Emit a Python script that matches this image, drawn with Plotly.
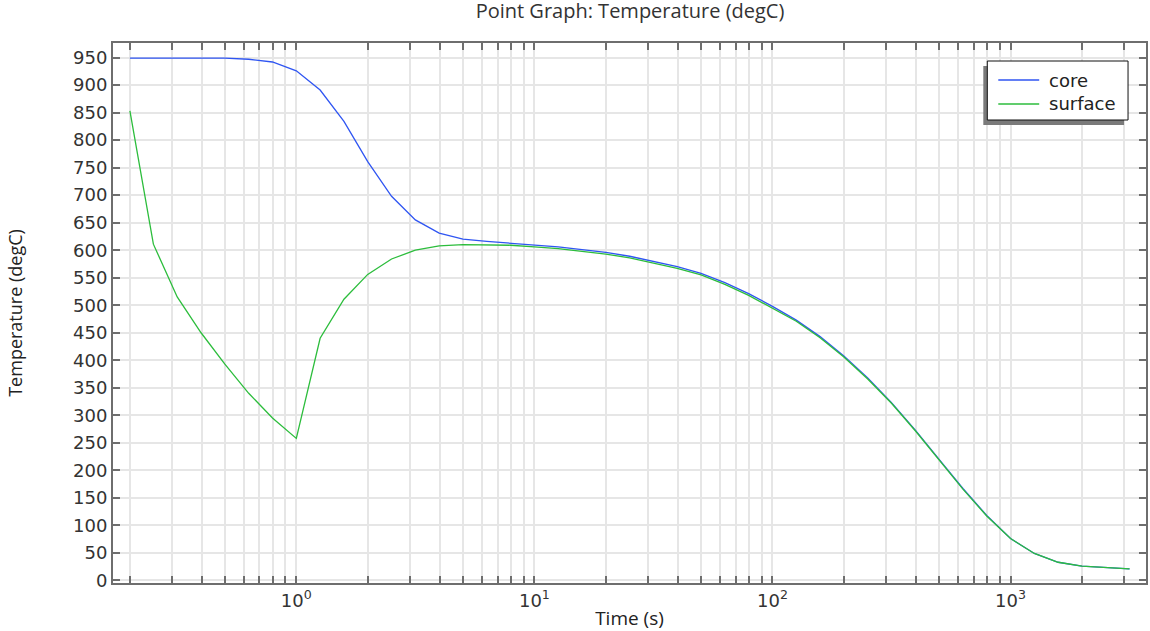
import plotly.graph_objects as go

# ---- data ----
time_s = [0.2, 0.251, 0.316, 0.398, 0.501, 0.631, 0.794, 1.0, 1.259, 1.585, 1.995,
          2.512, 3.162, 3.981, 5.012, 6.31, 7.943, 10, 12.59, 15.85, 19.95, 25.12,
          31.62, 39.81, 50.12, 63.1, 79.43, 100, 125.9, 158.5, 199.5, 251.2, 316.2,
          398.1, 501.2, 631, 794.3, 1000, 1259, 1585, 1995, 2512, 3162]
core = [949, 949, 949, 949, 949, 947, 942, 926, 891, 834, 761, 698, 655, 631, 620,
        616, 613, 610, 606, 601, 596, 589, 580, 570, 558, 541, 521, 498, 473, 443,
        408, 368, 323, 273, 220, 167, 118, 76, 49, 33, 26, 23, 21]
surface = [853, 611, 515, 450, 393, 340, 295, 258, 440, 511, 556, 584, 600, 608, 610,
           610, 609, 606, 603, 598, 593, 586, 577, 567, 555, 538, 518, 495, 471, 441,
           406, 366, 322, 272, 219, 166, 117, 76, 49, 33, 26, 23, 21]
series_names = ["core", "surface"]
series_colors = ["#2f55f2", "#2cbd3c"]

x_tick_vals = [0.2, 0.3, 0.4, 0.5, 0.6, 0.7, 0.8, 0.9,
               1, 2, 3, 4, 5, 6, 7, 8, 9,
               10, 20, 30, 40, 50, 60, 70, 80, 90,
               100, 200, 300, 400, 500, 600, 700, 800, 900,
               1000, 2000, 3000]
decade_labels = {1: "10<sup>0</sup>", 10: "10<sup>1</sup>",
                 100: "10<sup>2</sup>", 1000: "10<sup>3</sup>"}
x_tick_text = [decade_labels.get(v, "") for v in x_tick_vals]
y_tick_vals = list(range(0, 951, 50))

W, H = 1150, 631
ML, MR, MT, MB = 113, 2, 43, 48

fig = go.Figure()
for name, ys, col in zip(series_names, [core, surface], series_colors):
    fig.add_trace(go.Scatter(x=time_s, y=ys, mode="lines", name=name,
                             line=dict(color=col, width=1.3), showlegend=False))

axis_common = dict(showline=True, linecolor="#6e6e6e", linewidth=2, mirror="ticks",
                   ticks="inside", ticklen=7, tickwidth=2, tickcolor="#6e6e6e",
                   gridcolor="#e6e6e6", gridwidth=2, zeroline=False,
                   tickfont=dict(family="DejaVu Sans", size=18, color="#333333"))

fig.update_xaxes(type="log", range=[-0.770, 3.569], tickmode="array",
                 tickvals=x_tick_vals, ticktext=x_tick_text,
                 title=dict(text="Time (s)", font=dict(family="Open Sans", size=19, color="#222222"),
                            standoff=2),
                 **axis_common)
fig.update_yaxes(range=[-4.7, 976.5], tickmode="array", tickvals=y_tick_vals,
                 title=dict(text="Temperature (degC)", font=dict(family="Open Sans", size=18, color="#222222"),
                            standoff=46),
                 **axis_common)

pw = W - ML - MR
ph = H - MT - MB
def px(xp):
    return (xp - ML) / pw
def py(yp):
    return (H - MB - yp) / ph

# ---- legend box (drawn in paper space) ----
fig.add_shape(type="rect", xref="paper", yref="paper",
              x0=px(985), x1=px(1126), y0=py(125), y1=py(66),
              fillcolor="#7a7a7a", line=dict(width=0), layer="above")
fig.add_shape(type="rect", xref="paper", yref="paper",
              x0=px(989), x1=px(1130), y0=py(120), y1=py(61),
              fillcolor="white", line=dict(color="#111111", width=1), layer="above")
for i, (name, col) in enumerate(zip(series_names, series_colors)):
    yrow = 80 + 24 * i
    fig.add_shape(type="line", xref="paper", yref="paper",
                  x0=px(1000), x1=px(1041), y0=py(yrow), y1=py(yrow),
                  line=dict(color=col, width=1.3), layer="above")
    fig.add_annotation(xref="paper", yref="paper", x=px(1049), y=py(yrow),
                       xanchor="left", yanchor="middle", showarrow=False,
                       text=name,
                       font=dict(family="DejaVu Sans", size=18, color="#222222"))

fig.update_layout(
    width=W, height=H,
    margin=dict(l=ML, r=MR, t=MT, b=MB),
    paper_bgcolor="white", plot_bgcolor="white",
    title=dict(text="Point Graph: Temperature (degC)", x=630 / W,
               xanchor="center", yref="container", y=1 - 11 / H, yanchor="middle",
               font=dict(family="Open Sans", size=20, color="#333333")),
    showlegend=False,
)

fig.write_html("out.html")
